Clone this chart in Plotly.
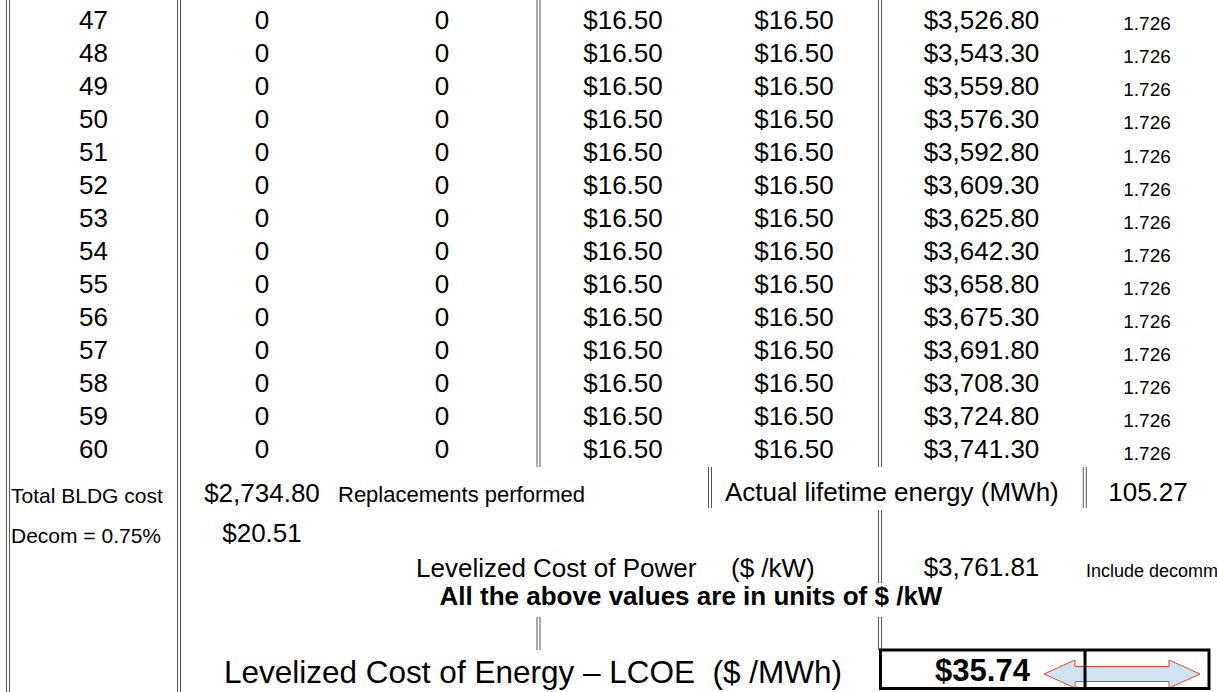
import plotly.graph_objects as go

# ---------------- data ----------------
years = [47, 48, 49, 50, 51, 52, 53, 54, 55, 56, 57, 58, 59, 60]
replacements_a = [0, 0, 0, 0, 0, 0, 0, 0, 0, 0, 0, 0, 0, 0]
replacements_b = [0, 0, 0, 0, 0, 0, 0, 0, 0, 0, 0, 0, 0, 0]
om_cost = [16.50, 16.50, 16.50, 16.50, 16.50, 16.50, 16.50, 16.50, 16.50, 16.50, 16.50, 16.50, 16.50, 16.50]
annual_cost = [16.50, 16.50, 16.50, 16.50, 16.50, 16.50, 16.50, 16.50, 16.50, 16.50, 16.50, 16.50, 16.50, 16.50]
cumulative_cost = [3526.80, 3543.30, 3559.80, 3576.30, 3592.80, 3609.30, 3625.80,
                   3642.30, 3658.80, 3675.30, 3691.80, 3708.30, 3724.80, 3741.30]
energy_mwh = [1.726, 1.726, 1.726, 1.726, 1.726, 1.726, 1.726,
              1.726, 1.726, 1.726, 1.726, 1.726, 1.726, 1.726]

total_bldg_cost = 2734.80
decom_cost = 20.51
decom_pct = 0.75
lifetime_energy = 105.27
lcop = 3761.81
lcoe = 35.74

# ---------------- layout constants ----------------
W, H = 1217, 692
FONT = "Liberation Sans, Arial, sans-serif"
ROW0, PITCH = 19.5, 33.05          # cap-centre of first row, row height (px)
COLX = [93.5, 262, 442, 623, 794, 981.5, 1147]
LINE_COLOR = "#555555"


def money(v):
    return "${:,.2f}".format(v)


def ypos(cap_center, size):
    # plotly 'middle' text puts the baseline at y + 0.25*size; shift so that
    # the capital letters are centred on cap_center
    return cap_center + 0.108 * size


row_cap = [ROW0 + PITCH * i for i in range(len(years))]

fig = go.Figure()

columns = [
    ([str(v) for v in years], 26, 0),
    ([str(v) for v in replacements_a], 26, 0),
    ([str(v) for v in replacements_b], 26, 0),
    ([money(v) for v in om_cost], 26, 0),
    ([money(v) for v in annual_cost], 26, 0),
    ([money(v) for v in cumulative_cost], 26, 0),
    (["{:.3f}".format(v) for v in energy_mwh], 19, 4),
]
for (texts, size, dy), cx in zip(columns, COLX):
    fig.add_trace(go.Scatter(
        x=[cx] * len(texts), y=[ypos(c + dy, size) for c in row_cap], text=texts,
        mode="text", textposition="middle center",
        textfont=dict(family=FONT, size=size, color="black"),
        hoverinfo="skip", showlegend=False, cliponaxis=True))

# summary rows
labels = [
    # (x, cap-centre y, text, size, position, bold)
    (11, 495, "Total BLDG cost", 21, "middle right", False),
    (262, 492.5, money(total_bldg_cost), 26, "middle center", False),
    (338, 494.5, "Replacements performed", 22, "middle right", False),
    (725, 492, "Actual lifetime energy (MWh)", 26, "middle right", False),
    (1148, 492, "{:.2f}".format(lifetime_energy), 26, "middle center", False),
    (11, 535, "Decom = {:.2f}%".format(decom_pct), 21, "middle right", False),
    (262, 533, money(decom_cost), 26, "middle center", False),
    (416, 567.5, "Levelized Cost of Power", 26, "middle right", False),
    (731, 567.5, "($ /kW)", 26, "middle right", False),
    (981.5, 567, money(lcop), 26, "middle center", False),
    (1086, 570.5, "Include decommissioning", 18, "middle right", False),
    (691, 596, "All the above values are in units of $ /kW", 26, "middle center", True),
    (533, 672, "Levelized Cost of Energy \u2013 LCOE\u00a0\u00a0($ /MWh)", 31.5, "middle center", False),
    (982.5, 670, money(lcoe), 31, "middle center", True),
]
for x, y, t, size, pos, bold in labels:
    fig.add_trace(go.Scatter(
        x=[x], y=[ypos(y, size)], text=["<b>%s</b>" % t if bold else t],
        mode="text", textposition=pos,
        textfont=dict(family=FONT, size=size, color="black"),
        hoverinfo="skip", showlegend=False, cliponaxis=True))

shapes = []

# double vertical borders: (centre x, y0, y1)
borders = [
    (8, 0, H),
    (179, 0, H),
    (538.5, 0, 467), (538.5, 617, 650),
    (880, 0, 467), (880, 510, 583), (880, 617, 650),
    (710, 467, 508),
    (1084.8, 467, 508),
]
for cx, y0, y1 in borders:
    for off in (-1.5, 1.5):
        shapes.append(dict(type="line", xref="x", yref="y",
                           x0=cx + off, x1=cx + off, y0=y0, y1=y1,
                           line=dict(color=LINE_COLOR, width=1)))

# double-headed arrow
ax0, ax1, acy = 1044, 1200, 674
head_len, shaft_h, head_h = 31, 7.5, 14
path = ("M {a0},{c} L {h0},{ct} L {h0},{st} L {h1},{st} L {h1},{ct} L {a1},{c} "
        "L {h1},{cb} L {h1},{sb} L {h0},{sb} L {h0},{cb} Z").format(
    a0=ax0, a1=ax1, c=acy, h0=ax0 + head_len, h1=ax1 - head_len,
    ct=acy - head_h, cb=acy + head_h, st=acy - shaft_h, sb=acy + shaft_h)
shapes.append(dict(type="path", xref="x", yref="y", path=path,
                   fillcolor="#cfe4f3", line=dict(color="#e5472b", width=1)))

# LCOE result box
bx0, bx1, by0, by1, bdiv = 880.5, 1209, 650, 688.5, 1085
shapes.append(dict(type="rect", xref="x", yref="y", x0=bx0, x1=bx1, y0=by0, y1=by1,
                   line=dict(color="black", width=3), fillcolor="rgba(0,0,0,0)"))
shapes.append(dict(type="line", xref="x", yref="y", x0=bdiv, x1=bdiv, y0=by0, y1=by1,
                   line=dict(color="black", width=3)))

fig.update_layout(
    width=W, height=H,
    margin=dict(l=0, r=0, t=0, b=0),
    paper_bgcolor="white", plot_bgcolor="white",
    xaxis=dict(range=[0, W], visible=False, fixedrange=True),
    yaxis=dict(range=[H, 0], visible=False, fixedrange=True),
    shapes=shapes,
    showlegend=False,
)

fig.write_html(
    "out.html",
    config={"displayModeBar": False},
    post_script="document.body.style.margin='0';document.body.style.overflow='hidden';",
)
